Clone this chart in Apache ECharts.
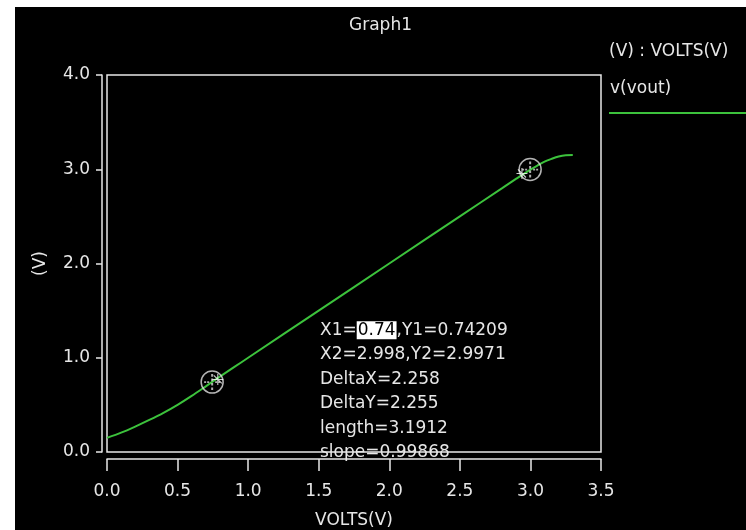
<!DOCTYPE html>
<html>
<head>
<meta charset="utf-8">
<script src="https://cdn.jsdelivr.net/npm/echarts@6/dist/echarts.min.js"></script>
<style>
  html, body { margin: 0; padding: 0; background: #fff; }
  #main-chart { position: absolute; left: 15px; top: 7px; width: 731px; height: 523px; }
</style>
</head>
<body>
<div id="main-chart"></div>
<script>
// sweep of v(vout) against VOLTS(V)
var volts = [0, 0.1, 0.2, 0.3, 0.4, 0.5, 0.6, 0.7, 0.8, 0.9, 1.0, 1.5, 2.0, 2.5, 2.8, 2.9, 3.0, 3.05, 3.1, 3.15, 3.2, 3.25, 3.3];
var vout = [0.15, 0.205, 0.27, 0.34, 0.415, 0.5, 0.595, 0.697, 0.8, 0.9, 1.0, 1.5, 2.0, 2.5, 2.8, 2.9, 2.997, 3.04, 3.08, 3.11, 3.135, 3.148, 3.15];

// cursor points
var cursorX = [0.745, 2.998];
var cursorY = [0.742, 2.997];
var starX = [0.785, 2.94];
var starY = [0.77, 2.955];

var xTicks = [0, 0.5, 1.0, 1.5, 2.0, 2.5, 3.0, 3.5];
var yTicks = [0, 1, 2, 3, 4];

var FONT = 'DejaVu Sans';
var TXT = '#e6e6e6';

var lineData = [];
for (var i = 0; i < volts.length; i++) {
    lineData.push([volts[i], vout[i]]);
}
var cursorData = [];
var starData = [];
for (var j = 0; j < cursorX.length; j++) {
    cursorData.push([cursorX[j], cursorY[j]]);
    starData.push([starX[j], starY[j]]);
}

var crossPath = 'path://M9,1h2v3h-2z M9,6h2v3h-2z M9,11h2v3h-2z M9,16h2v3h-2z ' +
    'M2,9h2v2h-2z M5,9h2v2h-2z M13,9h2v2h-2z M16,9h2v2h-2z';
var starPath = 'path://M9,0h2v20h-2z M0,9h20v2h-20z M2,3.4l1.4,-1.4l14.6,14.6l-1.4,1.4z';

var myChart = echarts.init(document.getElementById('main-chart'));

var option = {
    backgroundColor: '#000',
    animation: false,
    title: {
        text: 'Graph1',
        left: 'center',
        top: 5,
        textStyle: { color: TXT, fontFamily: FONT, fontSize: 17, fontWeight: 'normal' }
    },
    grid: {
        left: 92,
        top: 68,
        width: 494,
        height: 377,
        outerBoundsMode: 'none',
        show: true,
        backgroundColor: '#000',
        borderColor: '#e8e8e8',
        borderWidth: 1.5
    },
    xAxis: {
        type: 'value',
        min: xTicks[0],
        max: xTicks[xTicks.length - 1],
        interval: 0.5,
        offset: 7,
        name: 'VOLTS(V)',
        nameLocation: 'middle',
        nameGap: 53,
        nameTextStyle: { color: TXT, fontFamily: FONT, fontSize: 17 },
        axisLine: { show: true, onZero: false, lineStyle: { color: '#e8e8e8', width: 1.5 } },
        axisTick: { show: true, inside: false, length: 12, lineStyle: { color: '#e8e8e8', width: 1.5 } },
        axisLabel: {
            color: TXT, fontFamily: FONT, fontSize: 17, margin: 24,
            formatter: function (v) { return v.toFixed(1); }
        },
        splitLine: { show: false }
    },
    yAxis: {
        type: 'value',
        min: yTicks[0],
        max: yTicks[yTicks.length - 1],
        interval: 1,
        offset: 5,
        name: '(V)',
        nameLocation: 'middle',
        nameGap: 53,
        nameTextStyle: { color: TXT, fontFamily: FONT, fontSize: 17 },
        axisLine: { show: true, onZero: false, lineStyle: { color: '#e8e8e8', width: 1.5 } },
        axisTick: { show: true, inside: false, length: 6, lineStyle: { color: '#e8e8e8', width: 1.5 } },
        axisLabel: {
            color: TXT, fontFamily: FONT, fontSize: 17, margin: 12,
            formatter: function (v) { return v.toFixed(1); }
        },
        splitLine: { show: false }
    },
    graphic: [
        {
            type: 'text',
            left: 594,
            top: 36,
            style: { text: '(V) : VOLTS(V)', fill: TXT, font: '17px "DejaVu Sans"' }
        },
        {
            type: 'text',
            left: 595,
            top: 73,
            style: { text: 'v(vout)', fill: TXT, font: '17px "DejaVu Sans"' }
        },
        {
            type: 'line',
            shape: { x1: 594, y1: 106, x2: 731, y2: 106 },
            style: { stroke: '#3cc23c', lineWidth: 2 }
        },
        {
            type: 'text',
            left: 305,
            top: 311,
            z: 1,
            style: {
                text: 'X1={hl|0.74},Y1=0.74209\nX2=2.998,Y2=2.9971\nDeltaX=2.258\nDeltaY=2.255\nlength=3.1912\nslope=0.99868',
                fill: TXT,
                font: '17px "DejaVu Sans"',
                lineHeight: 24.5,
                rich: {
                    hl: {
                        backgroundColor: '#fff',
                        fill: '#000',
                        color: '#000',
                        fontFamily: FONT,
                        fontSize: 17,
                        lineHeight: 24.5,
                        padding: [1, 1, 0, 1]
                    }
                }
            }
        }
    ],
    series: [
        {
            name: 'v(vout)',
            type: 'line',
            data: lineData,
            smooth: 0.3,
            showSymbol: false,
            lineStyle: { color: '#3cc23c', width: 2 },
            z: 3
        },
        {
            type: 'scatter',
            data: cursorData,
            symbol: 'circle',
            symbolSize: 22,
            itemStyle: { color: 'rgba(0,0,0,0)', borderColor: '#e0e0e0', borderWidth: 1.5 },
            z: 4
        },
        {
            type: 'scatter',
            data: cursorData,
            symbol: crossPath,
            symbolSize: 16,
            itemStyle: { color: '#d8d8d8' },
            z: 4
        },
        {
            type: 'scatter',
            data: starData,
            symbol: starPath,
            symbolSize: 11,
            itemStyle: { color: '#ffffff' },
            z: 5
        }
    ]
};
myChart.setOption(option);
</script>
</body>
</html>
